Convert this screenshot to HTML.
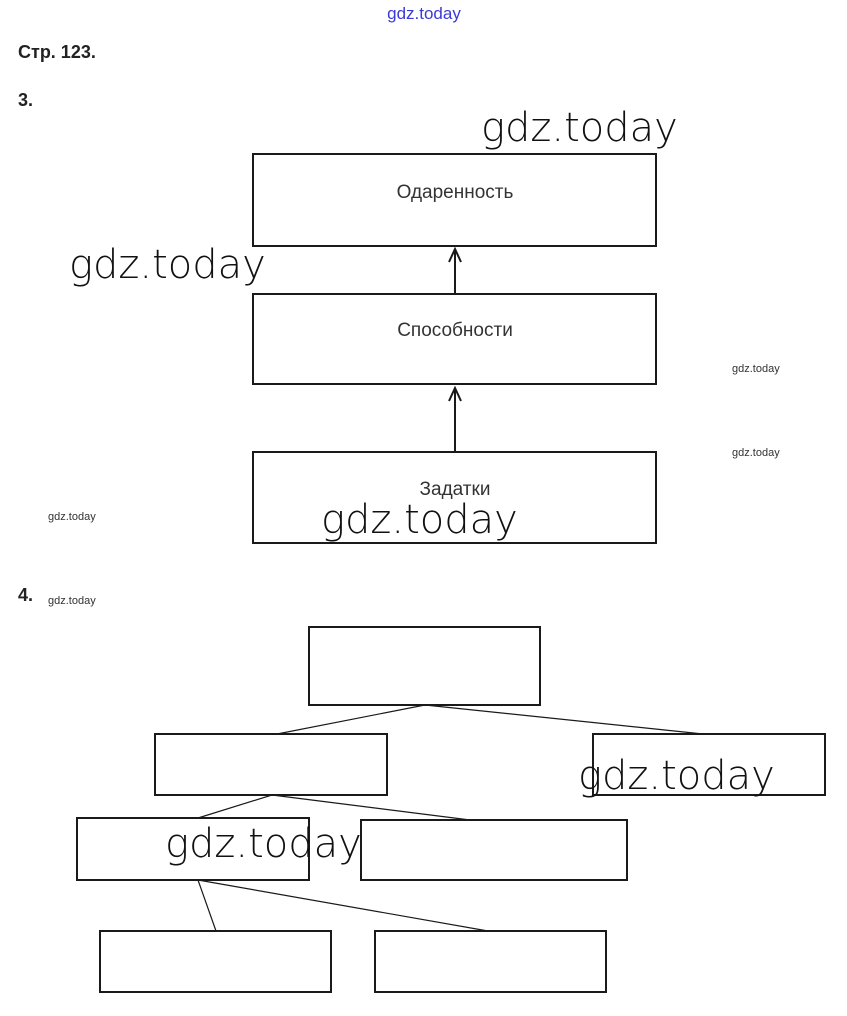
<!DOCTYPE html>
<html><head><meta charset="utf-8"><style>
html,body{margin:0;padding:0;background:#fff;}
svg{display:block;}
.wm{font-family:"DejaVu Sans","Liberation Sans",sans-serif;font-weight:200;fill:#111;}
</style></head><body>
<svg width="847" height="1016" xmlns="http://www.w3.org/2000/svg">
<text x="424" y="19" text-anchor="middle" font-family="Liberation Sans,sans-serif" font-size="17" fill="#3a3ad8">gdz.today</text>
<text x="18" y="58" font-family="Liberation Sans,sans-serif" font-weight="bold" font-size="18" fill="#222">Стр. 123.</text>
<text x="18" y="106" font-family="Liberation Sans,sans-serif" font-weight="bold" font-size="18" fill="#222">3.</text>
<text x="18" y="601" font-family="Liberation Sans,sans-serif" font-weight="bold" font-size="18" fill="#222">4.</text>
<g fill="none" stroke="#1a1a1a" stroke-width="2">
<rect x="253" y="154" width="403" height="92"/>
<rect x="253" y="294" width="403" height="90"/>
<rect x="253" y="452" width="403" height="91"/>
<rect x="309" y="627" width="231" height="78"/>
<rect x="155" y="734" width="232" height="61"/>
<rect x="593" y="734" width="232" height="61"/>
<rect x="77" y="818" width="232" height="62"/>
<rect x="361" y="820" width="266" height="60"/>
<rect x="100" y="931" width="231" height="61"/>
<rect x="375" y="931" width="231" height="61"/>
<line x1="455" y1="294" x2="455" y2="249"/>
<polyline points="449,262 455,249 461,262"/>
<line x1="455" y1="452" x2="455" y2="388"/>
<polyline points="449,401 455,388 461,401"/>
</g>
<g fill="none" stroke="#1a1a1a" stroke-width="1.2">
<line x1="425" y1="705" x2="277" y2="734"/>
<line x1="425" y1="705" x2="703" y2="734"/>
<line x1="272" y1="795" x2="198" y2="818"/>
<line x1="272" y1="795" x2="470" y2="820"/>
<line x1="198" y1="880" x2="216" y2="931"/>
<line x1="198" y1="880" x2="488" y2="931"/>
</g>
<g font-family="Liberation Sans,sans-serif" font-size="19" fill="#333" text-anchor="middle">
<text x="455" y="198">Одаренность</text>
<text x="455" y="336">Способности</text>
<text x="455" y="495">Задатки</text>
</g>
<g class="wm" font-size="40">
<text x="481" y="141">gdz.today</text>
<text x="69" y="278">gdz.today</text>
<text x="321" y="533">gdz.today</text>
<text x="578" y="789">gdz.today</text>
<text x="165" y="857">gdz.today</text>
</g>
<g font-family="Liberation Sans,sans-serif" font-size="11" fill="#333">
<text x="732" y="372">gdz.today</text>
<text x="732" y="456">gdz.today</text>
<text x="48" y="520">gdz.today</text>
<text x="48" y="604">gdz.today</text>
</g>
</svg>
</body></html>
